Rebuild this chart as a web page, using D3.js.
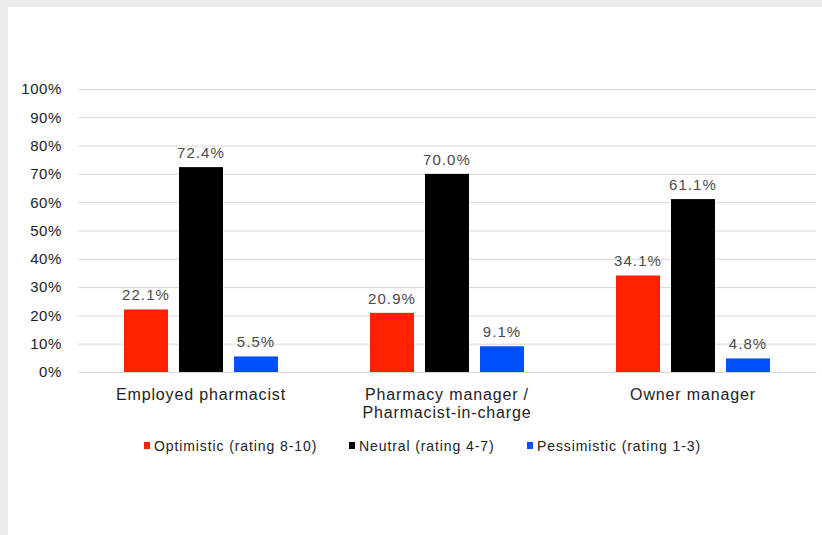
<!DOCTYPE html>
<html><head><meta charset="utf-8">
<script src="https://cdn.jsdelivr.net/npm/d3@7"></script>
<style>body{margin:0;background:#ebebeb;}svg{display:block;}</style>
</head><body>
<svg id="c" width="822" height="535"></svg>
<script>
const categories = [["Employed pharmacist"], ["Pharmacy manager /", "Pharmacist-in-charge"], ["Owner manager"]];
const seriesNames = ["Optimistic (rating 8-10)", "Neutral (rating 4-7)", "Pessimistic (rating 1-3)"];
const seriesColors = ["#ff2000", "#000000", "#0050ff"];
const optimistic = [22.1, 20.9, 34.1];
const neutral = [72.4, 70.0, 61.1];
const pessimistic = [5.5, 9.1, 4.8];
const yTicks = [0,10,20,30,40,50,60,70,80,90,100];

const series = [optimistic, neutral, pessimistic];
const FONT = "Arial, 'Liberation Sans', sans-serif";
const svg = d3.select("#c");
svg.append("rect").attr("x",8).attr("y",7).attr("width",814).attr("height",528).attr("fill","#fff");

const catIdx = d3.range(categories.length);
const x0 = d3.scaleBand().domain(catIdx).range([78,816]).paddingInner(0.374).paddingOuter(0.187);
const x1 = d3.scaleBand().domain(d3.range(series.length)).range([0,x0.bandwidth()]).paddingInner(0.2);
const y = d3.scaleLinear().domain([0,100]).range([372,89]);

// gridlines + y labels
const yAxis = d3.axisLeft(y).tickValues(yTicks).tickSize(-(816-78)).tickFormat(d=>d+"%");
const gy = svg.append("g").attr("transform","translate(78,0)").call(yAxis);
gy.select(".domain").remove();
gy.selectAll(".tick line").attr("stroke","#d9d9d9").attr("stroke-width",1);
gy.selectAll(".tick text").attr("x",-16).attr("fill","#222")
  .style("font-family",FONT).style("font-size","15px").style("letter-spacing","0.6px");

// bars
catIdx.forEach(ci=>{
  const g = svg.append("g").attr("transform",`translate(${x0(ci)},0)`);
  series.forEach((s,si)=>{
    g.append("rect").attr("x",x1(si)).attr("width",x1.bandwidth())
      .attr("y",y(s[ci])).attr("height",y(0)-y(s[ci])).attr("fill",seriesColors[si]);
    g.append("text").attr("x",x1(si)+x1.bandwidth()/2).attr("y",y(s[ci])-9)
      .attr("text-anchor","middle").attr("fill","#4a4a4a")
      .style("font-family",FONT).style("font-size","15px").style("letter-spacing","1.1px")
      .text(s[ci].toFixed(1)+"%");
  });
});

// x axis labels
const xAxis = d3.axisBottom(x0).tickSize(0).tickFormat("");
const gx = svg.append("g").attr("transform","translate(0,372)").call(xAxis);
gx.select(".domain").attr("stroke","#d9d9d9");
gx.selectAll(".tick").each(function(d){
  const t = d3.select(this).append("text").attr("text-anchor","middle").attr("fill","#222")
    .style("font-family",FONT).style("font-size","16px").style("letter-spacing","0.85px");
  categories[d].forEach((line,i)=>{
    t.append("tspan").attr("x",0).attr("y",28+i*18).text(line);
  });
});

// legend
const legendX = [144, 349, 527];
const lg = svg.append("g");
seriesNames.forEach((n,i)=>{
  lg.append("rect").attr("x",legendX[i]).attr("y",442).attr("width",6).attr("height",7).attr("fill",seriesColors[i]);
  lg.append("text").attr("x",legendX[i]+10).attr("y",451).attr("fill","#222")
    .style("font-family",FONT).style("font-size","14px").style("letter-spacing","0.9px").text(n);
});
</script>
</body></html>
